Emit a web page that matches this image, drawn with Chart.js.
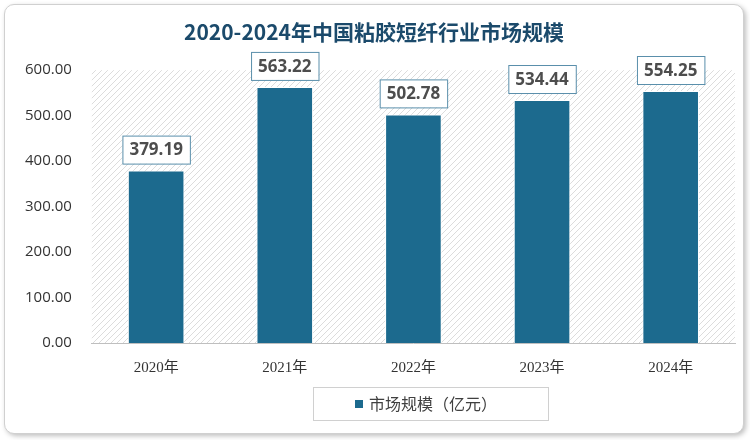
<!DOCTYPE html>
<html>
<head>
<meta charset="utf-8">
<script src="https://cdn.jsdelivr.net/npm/chart.js@4"></script>
<style>
  body { margin: 0; background: #fff; }
  #wrap { position: absolute; left: 4px; top: 4px; width: 738px; height: 428px;
    border: 1px solid #d0d0d0; border-radius: 10px; box-shadow: 2px 2px 5px rgba(0,0,0,0.25); background: #fff; }
  canvas { display: block; }
</style>
</head>
<body>
<div id="wrap"><canvas id="graph01" width="738" height="428"></canvas></div>
<script>
const categories = ['2020年', '2021年', '2022年', '2023年', '2024年'];
const marketSize = [379.19, 563.22, 502.78, 534.44, 554.25];
const seriesName = '市场规模（亿元）';
const FONT = '"Noto Sans CJK SC", "Open Sans", sans-serif';
const BAR_COLOR = '#1c6a8e';

function hatchPattern(ctx) {
  const c = document.createElement('canvas');
  c.width = 6; c.height = 6;
  const g = c.getContext('2d');
  g.fillStyle = '#ffffff';
  g.fillRect(0, 0, 6, 6);
  g.strokeStyle = '#dcdcdc';
  g.lineWidth = 1;
  g.beginPath();
  g.moveTo(0, 6); g.lineTo(6, 0);
  g.moveTo(-1, 1); g.lineTo(1, -1);
  g.moveTo(5, 7); g.lineTo(7, 5);
  g.stroke();
  return ctx.createPattern(c, 'repeat');
}

const extras = {
  id: 'extras',
  beforeDatasetsDraw(chart) {
    const { ctx, chartArea: a } = chart;
    ctx.save();
    ctx.fillStyle = hatchPattern(ctx);
    ctx.fillRect(a.left, a.top, a.right - a.left, a.bottom - a.top);
    ctx.restore();
  },
  afterDraw(chart) {
    const ctx = chart.ctx;
    const meta = chart.getDatasetMeta(0);
    ctx.save();
    ctx.font = 'bold 17px "Open Sans", sans-serif';
    ctx.textAlign = 'center';
    ctx.textBaseline = 'middle';
    meta.data.forEach((bar, i) => {
      const txt = marketSize[i].toFixed(2);
      const w = ctx.measureText(txt).width + 14;
      const h = 28;
      const cy = bar.y - 21;
      ctx.fillStyle = '#fff';
      ctx.fillRect(bar.x - w / 2, cy - h / 2, w, h);
      ctx.strokeStyle = '#5a8fab';
      ctx.lineWidth = 1;
      ctx.strokeRect(bar.x - w / 2 + 0.5, cy - h / 2 + 0.5, w, h);
      ctx.fillStyle = '#4d4d4d';
      ctx.fillText(txt, bar.x, cy + 1);
    });
    // legend box
    const lx = 308, ly = 382, lw = 235, lh = 33;
    ctx.strokeStyle = '#d0d0d0';
    ctx.strokeRect(lx + 0.5, ly + 0.5, lw, lh);
    ctx.fillStyle = BAR_COLOR;
    ctx.fillRect(lx + 42, ly + 13, 8, 8);
    ctx.fillStyle = '#404040';
    ctx.font = '16px ' + FONT;
    ctx.textAlign = 'left';
    ctx.fillText(seriesName, lx + 56, ly + 17);
    ctx.restore();
  }
};

new Chart(document.getElementById('graph01'), {
  type: 'bar',
  data: {
    labels: categories,
    datasets: [{
      label: seriesName,
      data: marketSize,
      backgroundColor: BAR_COLOR,
      borderColor: '#ffffff',
      borderWidth: 1,
      categoryPercentage: 1,
      barPercentage: 0.44
    }]
  },
  options: {
    responsive: false,
    animation: false,
    layout: { padding: { left: 8, right: 8, top: 0, bottom: 48 } },
    plugins: {
      title: {
        display: true,
        text: '2020-2024年中国粘胶短纤行业市场规模',
        color: '#1b4a6b',
        font: { family: FONT, size: 21, weight: 'bold' },
        padding: { top: 14, bottom: 26 }
      },
      legend: { display: false },
      tooltip: { enabled: false }
    },
    scales: {
      x: {
        grid: { display: false },
        border: { color: '#bfbfbf' },
        ticks: { color: '#333', font: { family: '"Liberation Serif", "Noto Sans CJK SC", serif', size: 15 }, padding: 8 }
      },
      y: {
        min: 0, max: 600,
        ticks: { stepSize: 100, color: '#333', font: { family: '"Open Sans", sans-serif', size: 15 },
          callback: v => v.toFixed(2), padding: 12 },
        grid: { display: false },
        border: { display: false }
      }
    }
  },
  plugins: [extras]
});
</script>
</body>
</html>
